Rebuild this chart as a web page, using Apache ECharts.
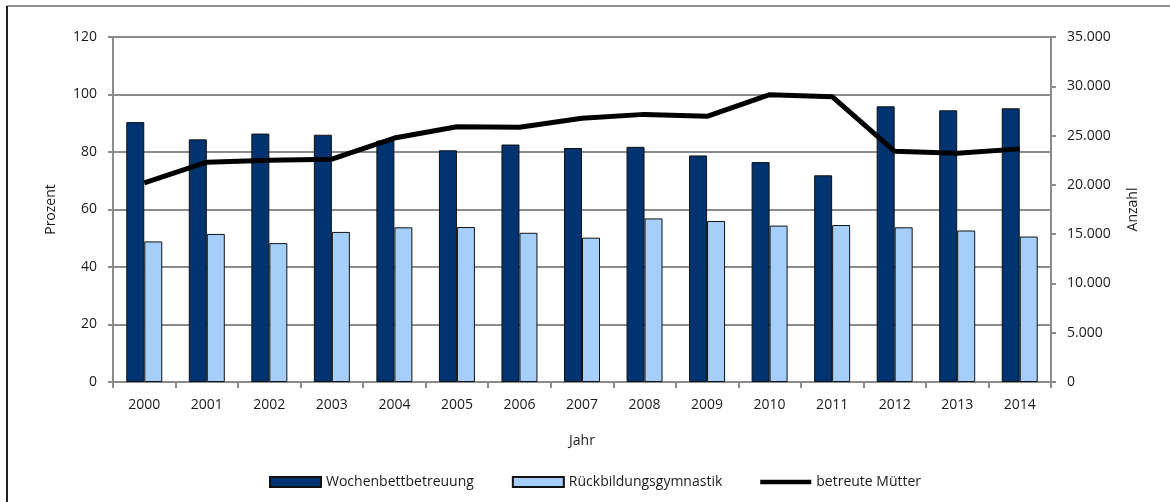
<!DOCTYPE html>
<html>
<head>
    <meta charset="utf-8">
    <script src="https://cdn.jsdelivr.net/npm/echarts@6/dist/echarts.min.js"></script>
    <style>
        html, body { margin: 0; padding: 0; background: #fff; }
        #main { width: 1170px; height: 502px; }
    </style>
</head>
<body>
<div id="main"></div>
<script type="text/javascript">
    // Jahre
    var jahre = ['2000', '2001', '2002', '2003', '2004', '2005', '2006', '2007',
                 '2008', '2009', '2010', '2011', '2012', '2013', '2014'];
    // Prozent
    var wochenbett = [90.4, 84.4, 86.4, 86.0, 84.0, 80.6, 82.6, 81.4, 81.8, 78.8, 76.5, 71.9, 95.9, 94.5, 95.2];
    var rueckbildung = [48.9, 51.5, 48.3, 52.2, 53.8, 53.9, 51.9, 50.2, 56.9, 56.0, 54.4, 54.6, 53.8, 52.7, 50.6];
    // Anzahl
    var muetter = [20200, 22300, 22500, 22600, 24750, 25900, 25850, 26750, 27150, 26950, 29150, 28950, 23400, 23200, 23650];

    var textColor = '#1a1a1a';
    var gridColor = '#8c8c8c';
    var font = '"Open Sans", "Noto Sans", sans-serif';

    var myChart = echarts.init(document.getElementById('main'));
    var option = {
        animation: false,
        textStyle: { fontFamily: font, color: textColor },
        grid: { left: 113, right: 119, top: 37, bottom: 120, containLabel: false },
        graphic: [
            { type: 'line', shape: { x1: 7, y1: 6, x2: 1170, y2: 6 }, style: { stroke: '#222', lineWidth: 1 } },
            { type: 'line', shape: { x1: 7, y1: 6, x2: 7, y2: 502 }, style: { stroke: '#222', lineWidth: 2 } }
        ],
        legend: {
            left: 269,
            top: 475,
            padding: 0,
            itemWidth: 51,
            itemHeight: 10,
            itemGap: 38,
            textStyle: { fontFamily: font, fontSize: 14, color: textColor },
            data: [
                { name: 'Wochenbettbetreuung', icon: 'rect' },
                { name: 'Rückbildungsgymnastik', icon: 'rect' },
                { name: 'betreute Mütter', icon: 'path://M0,0L55,0L55,5L0,5Z', itemStyle: { color: '#000', borderWidth: 0 } }
            ]
        },
        xAxis: {
            type: 'category',
            data: jahre,
            name: 'Jahr',
            nameLocation: 'middle',
            nameGap: 52,
            nameTextStyle: { fontFamily: font, fontSize: 14, color: textColor },
            axisLine: { lineStyle: { color: gridColor, width: 2 } },
            axisTick: { show: true, length: 6, lineStyle: { color: gridColor, width: 2 } },
            axisLabel: { fontFamily: font, fontSize: 14, color: textColor, margin: 16 }
        },
        yAxis: [
            {
                type: 'value',
                min: 0,
                max: 120,
                interval: 20,
                name: 'Prozent',
                nameLocation: 'middle',
                nameRotate: 90,
                nameGap: 55,
                nameTextStyle: { fontFamily: font, fontSize: 14, color: textColor },
                axisLine: { show: true, lineStyle: { color: gridColor, width: 2 } },
                axisTick: { show: true, length: 5, lineStyle: { color: gridColor, width: 2 } },
                axisLabel: { fontFamily: font, fontSize: 14, color: textColor, margin: 16 },
                splitLine: { show: true, lineStyle: { color: gridColor, width: 2 } }
            },
            {
                type: 'value',
                min: 0,
                max: 35000,
                interval: 5000,
                name: 'Anzahl',
                nameLocation: 'middle',
                nameRotate: 90,
                nameGap: 75,
                nameTextStyle: { fontFamily: font, fontSize: 14, color: textColor },
                axisLine: { show: true, lineStyle: { color: gridColor, width: 2 } },
                axisTick: { show: true, length: 5, lineStyle: { color: gridColor, width: 2 } },
                axisLabel: {
                    fontFamily: font, fontSize: 14, color: textColor, margin: 16,
                    formatter: function (v) {
                        return v === 0 ? '0' : (v / 1000) + '.000';
                    }
                },
                splitLine: { show: false }
            }
        ],
        series: [
            {
                name: 'Wochenbettbetreuung',
                type: 'bar',
                data: wochenbett,
                barWidth: 18,
                barGap: '0%',
                itemStyle: { color: '#003471', borderColor: '#111', borderWidth: 1 }
            },
            {
                name: 'Rückbildungsgymnastik',
                type: 'bar',
                data: rueckbildung,
                barWidth: 18,
                barGap: '0%',
                itemStyle: { color: '#a6cefa', borderColor: '#111', borderWidth: 1 }
            },
            {
                name: 'betreute Mütter',
                type: 'line',
                yAxisIndex: 1,
                data: muetter,
                symbol: 'none',
                z: 5,
                lineStyle: { color: '#000', width: 5 },
                itemStyle: { color: '#000' }
            }
        ]
    };
    myChart.setOption(option);
</script>
</body>
</html>
